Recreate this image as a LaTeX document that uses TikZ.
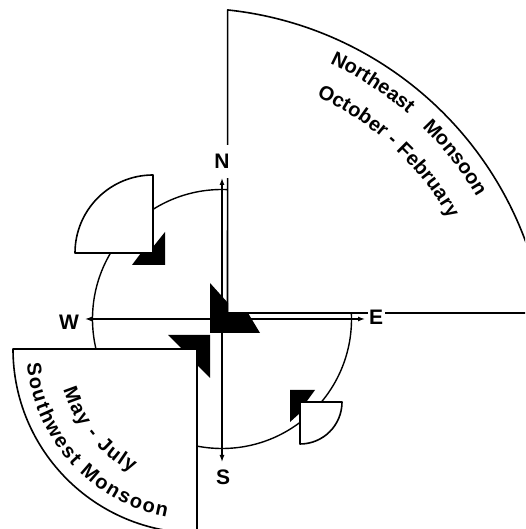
\documentclass[tikz,border=0pt]{standalone}
\usepackage{fontspec}
\setmainfont{Liberation Sans}
\usetikzlibrary{arrows.meta,decorations.text}
\begin{document}
\begin{tikzpicture}[x=1pt,y=1pt,
  edge/.style={line width=1.6pt, line join=round},
  ring/.style={line width=1.4pt},
  axis/.style={line width=1.3pt, -{Latex[length=7pt,width=5pt]}},
  head/.style={fill=black, draw=none},
  dir/.style={font=\fontsize{21}{21}\selectfont\bfseries, fill=white, inner sep=1.5pt},
  curved/.style={decorate, decoration={text along path, text align=fit to path, text={|\fontsize{20}{20}\selectfont\bfseries|#1}}},
  curvedgap/.style={decorate, decoration={text along path, text align=fit to path stretching spaces, text={|\fontsize{20}{20}\selectfont\bfseries|#1}}}
]
\useasboundingbox (0,0) rectangle (525,529);
\begin{scope}
\clip (0,0) rectangle (525,529);
% centres
\coordinate (C) at (222,210);
\coordinate (NEc) at (227.5,216);
\coordinate (NEo) at (190.3,163.5);
\coordinate (SWc) at (197,180);
\coordinate (NWc) at (153,276);
\coordinate (SEc) at (300,127);
% compass ring
\draw[ring] (C) circle[radius=129.5];
% sectors
\filldraw[edge, fill=white] (NEc) -- ([shift={(84:357.5)}]NEo) arc[start angle=84, end angle=15, radius=357.5] -- (545,216) -- cycle;
\filldraw[edge, fill=white] (SWc) -- ++(-184,0) arc[start angle=180, end angle=270, radius=184] -- cycle;
\filldraw[edge, fill=white] (NWc) -- ++(0,78) arc[start angle=90, end angle=180, radius=78] -- cycle;
\filldraw[edge, fill=white] (SEc) -- ++(42,0) arc[start angle=0, end angle=-90, radius=42] -- cycle;
% labels
\node[dir, inner ysep=9pt] (N) at (222,367.5) {N};
\node[dir] (E) at (376,212) {E};
\node[dir] (W) at (69,207) {W};
\node[dir] (S) at (223,52) {S};
% axes
\coordinate (Nt) at (222,351);
\coordinate (St) at (222,67);
\coordinate (Wt) at (85,210);
\coordinate (Et) at (365,210);
\draw[axis] (C) -- (Nt);
\draw[axis] (C) -- (St);
\draw[axis] (C) -- (Wt);
\draw[axis] (C) -- (Et);
% wind heads
\fill[head] (210,196) -- (210,246) -- (228,226) -- (228,216) -- (248,216) -- (260,196) -- cycle;
\fill[head] (165,264) -- (165,297) -- (153,282) -- (153,276) -- (141,276) -- (132,264) -- cycle;
\fill[head] (210,194) -- (168,194) -- (182,180) -- (197,180) -- (197,164) -- (210,151) -- cycle;
\fill[head] (290,139) -- (315,139) -- (307,128) -- (300,128) -- (300,116) -- (290,107) -- cycle;
% sector texts
\path[curvedgap={Northeast Monsoon}] ([shift={(65.2:332.5)}]NEo) arc[start angle=65.2, end angle=30.5, radius=332.5];
\path[curved={October - February}] ([shift={(64.9:297.5)}]NEo) arc[start angle=64.9, end angle=29.6, radius=297.5];
\path[curved={May - July}] ([shift={(196.7:139.5)}]SWc) arc[start angle=196.7, end angle=242.2, radius=139.5];
\path[curved={Southwest Monsoon}] ([shift={(184.8:170.5)}]SWc) arc[start angle=184.8, end angle=259.7, radius=170.5];
\end{scope}
\end{tikzpicture}
\end{document}
